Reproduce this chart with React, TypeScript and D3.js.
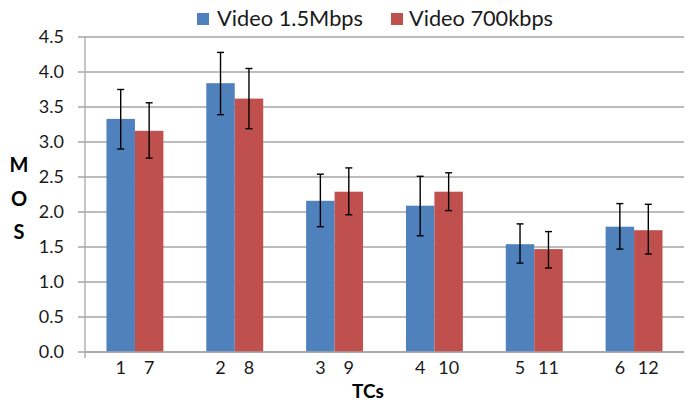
import React from "react";
import * as d3 from "d3";

const groups = ["g1", "g2", "g3", "g4", "g5", "g6"];
const labelsA = ["1", "2", "3", "4", "5", "6"];
const labelsB = ["7", "8", "9", "10", "11", "12"];
const seriesNames = ["Video 1.5Mbps", "Video 700kbps"];
const blue = [3.33, 3.84, 2.16, 2.09, 1.54, 1.79];
const blueHi = [3.75, 4.28, 2.54, 2.51, 1.83, 2.12];
const blueLo = [2.9, 3.39, 1.79, 1.66, 1.27, 1.47];
const red = [3.16, 3.62, 2.29, 2.29, 1.47, 1.74];
const redHi = [3.56, 4.05, 2.63, 2.56, 1.72, 2.11];
const redLo = [2.77, 3.19, 1.96, 2.02, 1.2, 1.4];
const yTicks = [0, 0.5, 1, 1.5, 2, 2.5, 3, 3.5, 4, 4.5];

const W = 690;
const H = 402;
const colors = ["#4F81BD", "#C0504D"];
const FONT = "Lato, 'Open Sans', sans-serif";

export default function App() {
  const left = 85;
  const right = 684;
  const y = d3.scaleLinear().domain([0, 4.5]).range([352, 37]);
  const x = d3.scaleBand().domain(groups).range([left, right]).padding(0);
  const bw = x.bandwidth();
  const xs = d3.scaleBand().domain(["a", "b"]).range([bw * 0.215, bw * 0.785]).padding(0);
  const barW = xs.bandwidth();

  const series = [
    { key: "a", vals: blue, hi: blueHi, lo: blueLo, labels: labelsA, color: colors[0] },
    { key: "b", vals: red, hi: redHi, lo: redLo, labels: labelsB, color: colors[1] },
  ];

  return (
    <svg width={W} height={H} style={{ position: "absolute", left: 0, top: 0, background: "#fff" }}>
      {yTicks.map((t) => (
        <g key={t}>
          <line x1={78} x2={right} y1={y(t)} y2={y(t)} stroke="#A6A6A6" strokeWidth={1.3} />
          <text x={64} y={y(t)} dy="0.35em" textAnchor="end" fontFamily={FONT} fontSize={18} fill="#1a1a1a">
            {t.toFixed(1)}
          </text>
        </g>
      ))}
      <line x1={left} x2={left} y1={y(4.5)} y2={y(0) + 6} stroke="#A6A6A6" strokeWidth={1.3} />
      {series.map((s) =>
        groups.map((g, i) => {
          const bx = (x(g) as number) + (xs(s.key) as number);
          const cx = bx + barW / 2;
          return (
            <g key={s.key + g}>
              <rect x={bx} y={y(s.vals[i])} width={barW} height={y(0) - y(s.vals[i])} fill={s.color} />
              <line x1={cx} x2={cx} y1={y(s.hi[i])} y2={y(s.lo[i])} stroke="#000" strokeWidth={1.4} />
              <line x1={cx - 3.5} x2={cx + 3.5} y1={y(s.hi[i])} y2={y(s.hi[i])} stroke="#000" strokeWidth={1.4} />
              <line x1={cx - 3.5} x2={cx + 3.5} y1={y(s.lo[i])} y2={y(s.lo[i])} stroke="#000" strokeWidth={1.4} />
              <text x={cx} y={368} dy="0.35em" textAnchor="middle" fontFamily={FONT} fontSize={18} fill="#1a1a1a">
                {s.labels[i]}
              </text>
            </g>
          );
        })
      )}
      <line x1={left} x2={right} y1={y(0)} y2={y(0)} stroke="#A6A6A6" strokeWidth={1.3} />
      <text x={368} y={391} dy="0.35em" textAnchor="middle" fontFamily={FONT} fontSize={19} fontWeight="bold" fill="#000">
        TCs
      </text>
      {["M", "O", "S"].map((c, i) => (
        <text key={c} x={19} y={165 + i * 33.5} dy="0.35em" textAnchor="middle" fontFamily={FONT} fontSize={20} fontWeight="bold" fill="#000">
          {c}
        </text>
      ))}
      <rect x={197} y={13} width={12} height={12} fill={colors[0]} />
      <text x={217} y={26} fontFamily={FONT} fontSize={22} textLength={146} lengthAdjust="spacingAndGlyphs" fill="#1a1a1a">
        {seriesNames[0]}
      </text>
      <rect x={391} y={13} width={12} height={12} fill={colors[1]} />
      <text x={409} y={26} fontFamily={FONT} fontSize={22} textLength={144} lengthAdjust="spacingAndGlyphs" fill="#1a1a1a">
        {seriesNames[1]}
      </text>
    </svg>
  );
}
